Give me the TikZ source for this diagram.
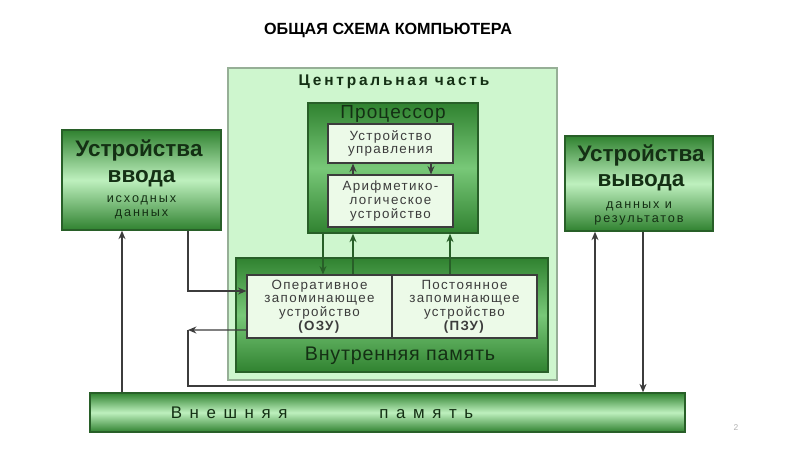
\documentclass[tikz,border=0pt]{standalone}
\usepackage{fontspec}
\setmainfont{Liberation Sans}
\usetikzlibrary{arrows.meta, positioning, calc}
\definecolor{grndark}{RGB}{48,130,48}
\definecolor{grnmid}{RGB}{120,200,120}
\definecolor{grnlight}{RGB}{190,240,190}
\definecolor{grnedge}{RGB}{40,95,40}
\definecolor{centfill}{RGB}{206,246,206}
\definecolor{centedge}{RGB}{150,175,150}
\definecolor{palebox}{RGB}{236,250,232}
\definecolor{txtgreen}{RGB}{20,48,20}
\definecolor{linegray}{RGB}{60,60,60}

\begin{document}
\begin{tikzpicture}[x=0.025cm, y=-0.025cm,
      grnbox/.style={draw=grnedge, line width=1pt, inner sep=0pt,
                     top color=grndark, bottom color=grndark, middle color=grnlight},
      darkbox/.style={draw=grnedge, line width=1pt, inner sep=0pt,
                      top color=grndark, bottom color=grndark, middle color=grnmid},
      whitebox/.style={draw=linegray, line width=0.8pt, fill=palebox,
                       inner sep=0pt, align=center, text=linegray,
                       font=\fontsize{9.5}{9.8}\selectfont\addfontfeature{LetterSpace=10}},
      headtxt/.style={text=txtgreen, font=\fontsize{16}{18}\selectfont\bfseries},
      subtxt/.style={text=txtgreen, font=\fontsize{9}{10}\selectfont\addfontfeature{LetterSpace=15}},
      conn/.style={->, draw=linegray, line width=0.8pt},
      >={Stealth[length=6pt,width=5pt]}]
    \useasboundingbox (0,0) rectangle (800,450);
    \node[font=\fontsize{11.5}{13}\selectfont\bfseries] (title) at (388,30)
          {ОБЩАЯ СХЕМА КОМПЬЮТЕРА};
    % central part
    \node[draw=centedge, line width=1pt, fill=centfill, minimum width=8.225cm,
          minimum height=7.8cm] (cent) at (392.5,224) {};
    \node[text=txtgreen, font=\fontsize{11}{12}\selectfont\bfseries\addfontfeature{LetterSpace=18}]
          (centlbl) at (394,82) {Центральная часть};
    \node[darkbox, minimum width=4.25cm, minimum height=3.25cm] (proc) at (393,168) {};
    \node[text=txtgreen, font=\fontsize{13.5}{15}\selectfont\addfontfeature{LetterSpace=6}]
          (proclbl) at (393,114) {Процессор};
    \node[whitebox, minimum width=3.125cm, minimum height=0.975cm] (uu) at (390.5,143.5)
          {Устройство\\управления};
    \node[whitebox, minimum width=3.125cm, minimum height=1.3cm] (alu) at (390.5,201)
          {Арифметико-\\логическое\\устройство};
    \node[darkbox, minimum width=7.8cm, minimum height=2.85cm] (mem) at (392,315) {};
    \node[whitebox, minimum width=3.625cm, minimum height=1.575cm] (ozu) at (319.5,306.5)
          {Оперативное\\запоминающее\\устройство\\\textbf{(ОЗУ)}};
    \node[whitebox, minimum width=3.625cm, minimum height=1.575cm] (pzu) at (464.5,306.5)
          {Постоянное\\запоминающее\\устройство\\\textbf{(ПЗУ)}};
    \node[text=txtgreen, font=\fontsize{14}{16}\selectfont\addfontfeature{LetterSpace=4}]
          (memlbl) at (400,356) {Внутренняя память};
    % input and output devices
    \node[grnbox, minimum width=3.975cm, minimum height=2.5cm] (inp) at (141.5,180) {};
    \node[headtxt] (inp1) at (139,150) {Устройства};
    \node[headtxt] (inp2) at (141.5,179) {ввода};
    \node[subtxt] (inp3) at (141.5,200) {исходных};
    \node[subtxt] (inp4) at (141.5,214) {данных};
    \node[grnbox, minimum width=3.7cm, minimum height=2.375cm] (outp) at (639,183.5) {};
    \node[headtxt] (out1) at (641,155) {Устройства};
    \node[headtxt] (out2) at (641,183) {вывода};
    \node[subtxt] (out3) at (639,206) {данных и};
    \node[subtxt] (out4) at (639,220) {результатов};
    % external memory
    \node[grnbox, minimum width=14.875cm, minimum height=0.975cm] (ext) at (387.5,412.5) {};
    \node[text=txtgreen, font=\fontsize{12}{14}\selectfont\addfontfeature{LetterSpace=45}]
          (extlbl) at (322,413) {Внешняя\hspace{2.3cm}память};
    \node[text=gray!60, font=\fontsize{6}{7}\selectfont] (pgno) at (736,428) {2};
    % connectors inside the processor
    \draw[conn] ([xshift=-0.9375cm]alu.north) -- ([xshift=-0.9375cm]uu.south);
    \draw[conn] ([xshift=1.0125cm]uu.south) -- ([xshift=1.0125cm]alu.north);
    % processor and internal memory
    \draw[conn, draw=grnedge] ([xshift=-1.75cm]proc.south) -- ([xshift=-1.75cm]proc.south |- ozu.north);
    \draw[conn, draw=grnedge] ([xshift=-1cm]proc.south |- ozu.north) -- ([xshift=-1cm]proc.south);
    \draw[conn, draw=grnedge] ([xshift=1.425cm]proc.south |- pzu.north) -- ([xshift=1.425cm]proc.south);
    % devices and memory
    \coordinate (c1) at (188,330);
    \coordinate (c2) at (188,386);
    \draw[conn] ([xshift=-0.4875cm]inp.south |- ext.north) -- ([xshift=-0.4875cm]inp.south);
    \draw[conn] ([xshift=1.1625cm]inp.south) |- ([yshift=0.3875cm]ozu.west);
    \draw[conn] ([yshift=-0.5875cm]ozu.west) -- (c1);
    \draw[conn] (c1) -- (c2) -| ([xshift=-1.1cm]outp.south);
    \draw[conn] ([xshift=0.1cm]outp.south) -- ([xshift=0.1cm]outp.south |- ext.north);
\end{tikzpicture}
\end{document}
